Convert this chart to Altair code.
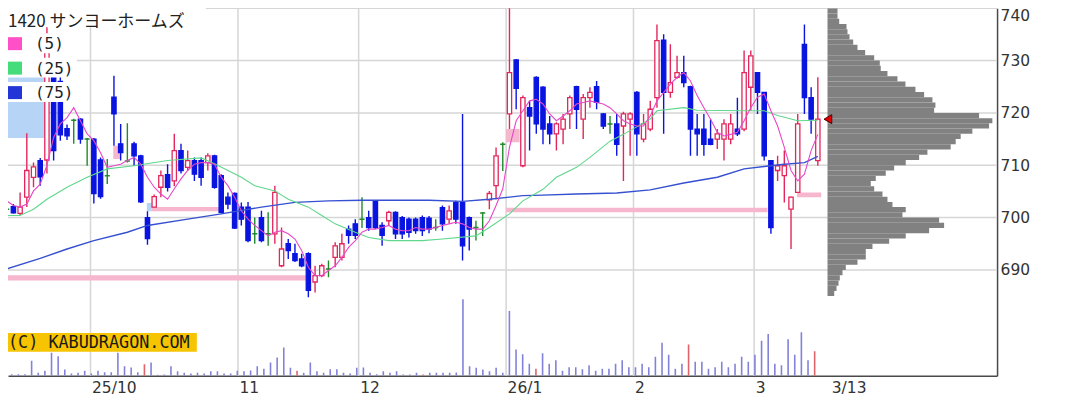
import altair as alt
import pandas as pd

# ---------------- data ----------------
TITLE = "1420 サンヨーホームズ"

opens = [701.6, 702.1, 700.8, 703.9, 707.7, 710.9, 711.0, 727.0, 726.0, 717.0,
         718.6, 718.8, 715.0, 715.0, 711.0, 708.0, 723.0, 714.1, 710.8, 714.1,
         711.8, 700.0, 702.0, 705.8, 708.2, 707.0, 712.8, 709.6, 710.9, 710.9,
         710.5, 711.8, 708.0, 703.9, 704.6, 702.0, 702.0, 696.9, 700.0, 696.9,
         696.9, 690.8, 695.0, 693.1, 692.1, 693.1, 687.7, 688.9, 690.2, 692.4,
         692.4, 697.8, 698.8, 699.7, 700.0, 703.2, 698.5, 699.4, 701.0, 700.0,
         699.7, 699.7, 700.0, 699.9, 698.1, 701.9, 699.7, 702.9, 702.9, 700.0,
         698.1, 700.9, 703.4, 706.1, 714.0, 719.8, 730.1, 709.9, 721.0, 726.8,
         724.9, 717.9, 716.0, 716.9, 719.8, 725.0, 718.8, 722.9, 725.0, 719.8,
         717.9, 717.9, 717.5, 718.8, 723.9, 715.0, 716.9, 722.9, 733.9, 723.9,
         726.8, 727.7, 725.0, 716.9, 716.9, 715.0, 715.0, 715.0, 715.0, 716.9,
         716.9, 724.9, 727.7, 723.9, 710.9, 709.0, 708.0, 701.6, 704.8, 733.1,
         722.9, 710.9]
highs = [702.6, 702.6, 704.8, 716.1, 710.5, 711.4, 737.0, 728.0, 727.0, 717.8,
         718.9, 719.0, 715.2, 715.2, 711.5, 711.2, 727.1, 717.9, 718.0, 714.5,
         712.0, 701.2, 704.4, 709.0, 710.2, 716.0, 714.1, 712.8, 711.5, 711.5,
         712.3, 712.0, 708.3, 704.8, 704.8, 702.9, 703.0, 700.0, 701.3, 701.0,
         706.1, 698.1, 695.9, 695.0, 693.1, 693.4, 690.8, 691.2, 691.8, 695.3,
         696.9, 698.5, 699.7, 703.9, 701.3, 703.3, 699.1, 701.3, 701.2, 700.3,
         700.0, 700.0, 700.4, 700.3, 699.7, 702.3, 702.3, 703.2, 719.8, 700.2,
         699.4, 701.0, 705.1, 713.4, 714.4, 740.8, 730.3, 723.3, 722.3, 727.0,
         725.1, 719.4, 718.2, 719.8, 723.3, 725.2, 723.6, 724.9, 726.1, 720.0,
         719.4, 719.8, 720.2, 720.1, 724.2, 719.8, 722.3, 736.9, 735.0, 733.1,
         730.9, 730.9, 725.2, 719.8, 719.8, 718.8, 716.9, 718.8, 719.8, 722.9,
         731.9, 731.9, 727.7, 724.0, 711.0, 711.8, 712.8, 704.0, 719.8, 736.9,
         724.9, 726.8]
lows = [700.8, 700.8, 700.5, 702.0, 705.8, 706.1, 708.4, 710.9, 714.7, 714.8,
        714.1, 714.1, 709.9, 702.7, 703.6, 706.4, 713.7, 710.9, 710.5, 709.9,
        702.8, 694.8, 702.0, 703.9, 705.0, 706.0, 708.4, 709.0, 707.0, 706.1,
        709.0, 705.5, 700.8, 701.6, 697.8, 698.5, 695.3, 695.0, 695.3, 694.6,
        695.0, 690.5, 692.1, 691.5, 690.5, 684.8, 685.7, 688.6, 688.6, 690.5,
        691.8, 695.0, 695.9, 698.0, 697.5, 697.8, 694.6, 698.5, 695.9, 695.9,
        696.2, 696.9, 696.5, 697.0, 697.5, 697.5, 698.8, 698.8, 691.8, 693.7,
        695.6, 696.5, 701.6, 703.5, 708.9, 716.9, 720.7, 709.6, 712.8, 716.0,
        714.0, 714.0, 712.8, 714.0, 716.9, 716.9, 715.0, 721.0, 720.7, 716.9,
        716.0, 711.8, 707.0, 711.8, 711.8, 714.4, 716.5, 721.0, 716.0, 722.9,
        726.5, 724.9, 711.8, 711.8, 711.8, 713.8, 713.1, 710.9, 714.0, 715.6,
        716.5, 720.4, 719.8, 710.9, 696.9, 707.0, 702.9, 694.0, 704.8, 719.8,
        716.0, 709.9]
closes = [701.6, 700.9, 702.0, 709.0, 709.7, 707.8, 735.0, 712.8, 715.8, 715.6,
          718.6, 715.0, 715.0, 704.6, 704.0, 708.0, 719.8, 712.4, 710.8, 711.8,
          703.0, 696.0, 704.0, 708.0, 705.8, 712.8, 709.0, 710.9, 708.3, 707.7,
          711.8, 705.8, 701.0, 702.6, 698.0, 699.7, 695.6, 696.9, 695.6, 696.9,
          704.8, 694.0, 693.7, 691.8, 690.8, 686.1, 688.9, 690.8, 690.2, 694.6,
          695.0, 696.6, 696.6, 699.7, 698.1, 698.1, 696.6, 701.0, 696.9, 696.9,
          697.2, 697.5, 697.5, 697.8, 698.1, 698.8, 701.3, 699.7, 694.6, 697.8,
          698.1, 700.9, 704.6, 711.8, 714.0, 727.7, 724.7, 722.9, 719.4, 717.9,
          716.9, 716.0, 717.9, 718.8, 722.9, 720.7, 722.9, 723.9, 722.0, 717.5,
          717.9, 714.0, 719.8, 719.8, 716.0, 717.9, 720.7, 733.8, 723.9, 725.8,
          727.7, 725.8, 716.9, 716.0, 714.0, 714.0, 716.0, 717.9, 717.9, 716.0,
          727.7, 730.9, 723.9, 711.8, 698.1, 709.9, 709.9, 703.9, 717.9, 722.9,
          718.8, 718.8]

ma5 = [703.2, 702.3, 702.0, 702.6, 705.1, 706.4, 710.0, 715.3, 717.9, 719.1,
       721.0, 718.5, 716.0, 714.7, 712.4, 709.6, 709.9, 710.2, 710.9, 711.5,
       710.2, 707.7, 705.8, 704.5, 703.5, 705.5, 707.4, 709.0, 710.2, 710.5,
       710.5, 710.2, 707.7, 706.1, 703.9, 701.3, 699.7, 698.5, 697.5, 696.5,
       697.2, 697.5, 696.9, 695.9, 693.7, 690.5, 688.9, 688.9, 689.9, 690.8,
       692.4, 694.3, 695.6, 697.2, 697.8, 697.8, 698.1, 698.5, 697.8, 697.5,
       697.5, 698.1, 697.8, 697.8, 698.1, 698.5, 698.8, 699.1, 698.8, 698.1,
       697.8, 697.8, 699.4, 702.3, 705.5, 713.4, 718.5, 720.4, 722.3, 722.6,
       721.7, 719.8, 718.5, 719.4, 720.4, 721.7, 722.0, 722.3, 722.0, 721.7,
       721.0, 719.8, 718.5, 717.9, 717.5, 717.5, 719.4, 722.3, 723.9, 725.5,
       726.8, 727.7, 726.1, 723.3, 721.0, 718.8, 716.3, 715.6, 715.9, 716.3,
       718.5, 721.0, 723.0, 723.6, 720.4, 717.5, 713.4, 709.0, 707.0, 708.3,
       712.8, 715.9]

ma25_day = [0, 2, 4, 6, 9, 12, 15, 19, 24, 29, 31, 33, 35, 37, 40, 42, 45, 47, 49,
            52, 54, 57, 62, 65, 70, 72, 75, 77, 80, 82, 85, 87, 90, 92, 96, 97,
            101, 103, 110, 113, 115, 118, 121]
ma25_val = [700.4, 700.4, 701.6, 703.5, 705.8, 707.7, 709.3, 709.9, 710.9, 711.4,
            710.3, 709.0, 707.7, 706.1, 705.1, 703.5, 702.0, 700.4, 698.8, 697.2,
            696.2, 695.6, 695.6, 695.9, 696.5, 698.1, 700.7, 703.2, 705.4, 707.7,
            709.6, 711.5, 714.6, 715.9, 718.8, 720.4, 721.0, 720.5, 720.4, 720.4,
            719.5, 718.5, 718.6]

ma75_day = [0, 5, 9, 13, 18, 21, 27, 32, 38, 43, 48, 53, 63, 68, 72, 75, 77, 80,
            85, 91, 96, 101, 106, 110, 116, 119, 121]
ma75_val = [690.2, 692.2, 694.0, 695.6, 697.2, 698.5, 699.7, 700.7, 702.0, 702.9,
            703.2, 703.3, 703.3, 703.1, 703.5, 703.9, 704.2, 704.3, 704.5, 704.7,
            705.3, 706.6, 707.7, 709.3, 710.2, 710.5, 711.7]

volume = [1.7, 1.7, 1.7, 15, 3, 5, 23, 19.7, 6.3, 2.3,
          3, 5, 2.3, 5, 3.7, 3.7, 23, 9.7, 8.3, 3.7,
          11.7, 13.3, 1, 1.3, 9.7, 4.7, 3, 2.3, 3, 2.3,
          4.7, 4.7, 2.3, 2.3, 5, 4.7, 5.3, 9.7, 7, 13.3,
          18.3, 28.3, 8, 5, 3, 13.3, 4.7, 3, 6.7, 6.7,
          3, 2.3, 8, 8.3, 3, 1.7, 4.7, 3, 4.7, 1.3,
          1.3, 3, 1.3, 3, 3, 3, 3, 3.3, 76.7, 9.7,
          8, 6.3, 4.7, 8, 3, 65, 26.3, 21.7, 12.2, 7,
          22.7, 12.2, 15.7, 5.2, 8.7, 8.7, 6.6, 10.5, 5.2, 7,
          7, 12.2, 15.7, 8.7, 8.7, 12.2, 8.7, 19.2, 33.2, 21,
          7, 12.2, 31.4, 14, 14, 7, 8.7, 14, 8.7, 12.2,
          19.2, 14, 21, 35, 41.9, 12.2, 10.5, 36.7, 21, 43.7,
          15.7, 24.5]
volume_red_days = [20, 43, 62, 79, 102, 121]

profile_low = list(range(685, 741))
profile_vol = [6.7, 9, 11, 12.3, 15, 18.3, 30, 38.3, 38.3, 45,
               61.7, 78.3, 101.7, 116.7, 111.7, 75, 78.3, 65, 60, 55,
               46.7, 43.3, 48.3, 58.3, 66.7, 78.3, 91.7, 100, 123.3, 128.3,
               133.3, 145, 161.7, 165, 151.7, 106.7, 108, 105, 96.7, 88,
               78, 70, 60, 53.3, 52.3, 46.7, 37.7, 30, 25.7, 22,
               20, 19, 11.7, 10, 10, 8.3]

# price gaps (windows): first day, last day, low, high, kind
gap_from = [-1, -1, 15.9, 20.9, 21.65, 74.5, 74.5, 117.9]
gap_to = [44.6, 5.7, 16.9, 21.65, 31.8, 113.5, 76.5, 121.5]
gap_low = [688.0, 715.2, 711.2, 701.2, 701.2, 701.0, 714.4, 703.9]
gap_high = [689.0, 730.3, 713.7, 702.8, 702.0, 701.9, 716.9, 704.8]
gap_kind = ["up", "down", "up", "down", "up", "up", "up", "up"]

month_first_day = [13, 35, 53, 75, 94, 112]
month_labels = ["25/10", "11", "12", "26/1", "2", "3"]
last_label = "3/13"
price_ticks = [690, 700, 710, 720, 730, 740]
ma_names = ["(5)", "(25)", "(75)"]

# ---------------- styles / layout ----------------
RED, BLUE, GREEN = "#e3265c", "#0a14e0", "#1e8a2a"
MA5C, MA25C, MA75C = "#e848c8", "#5fd78c", "#3550d0"
LEG = ["#ff50c8", "#45dc7a", "#2236d8"]
GRID = "#d6d6d6"
W, H = 990, 368
REF_X0, REF_DX = 6.7, 6.71          # reference pixel of day 0 and day spacing
XL, XR = (8 - REF_X0) / REF_DX, (998 - REF_X0) / REF_DX
PMAX = 740.0
PMIN = PMAX - H / 5.24
PROF_LEFT = 828.3

n = len(closes)
kind = ["up" if c > o else ("down" if c < o else "flat") for o, c in zip(opens, closes)]
candles = pd.DataFrame({"i": range(n), "open": opens, "high": highs, "low": lows,
                        "close": closes, "kind": kind})

XS = alt.Scale(domain=[XL, XR], nice=False, zero=False)
YS = alt.Scale(domain=[PMIN, PMAX], nice=False, zero=False)

tick_vals = [d - 0.5 for d in month_first_day] + [n - 1 + 1.85]
tick_text = month_labels + [last_label]
label_expr = ""
for v, t in zip(tick_vals, tick_text):
    label_expr += f"abs(datum.value - {v}) < 0.01 ? '{t}' : "
label_expr += "''"

x_axis = alt.Axis(values=tick_vals, labelExpr=label_expr, labelAlign="left",
                  labelBaseline="top", labelPadding=5, labelOffset=1, labelFlush=False,
                  labelFont="DejaVu Sans", labelFontSize=15.5, labelColor="#333",
                  ticks=False, grid=False, domainColor="#4a4a4a", domainWidth=1.5,
                  title=None, labelOverlap=False)
y_axis = alt.Axis(orient="right", values=price_ticks, labelFont="DejaVu Sans",
                  labelFontSize=15.5, labelColor="#333", ticks=False, grid=False,
                  domainColor="#4a4a4a", domainWidth=1.5, labelPadding=3, title=None,
                  labelBaseline={"condition": {"test": f"datum.value >= {PMAX}", "value": "top"},
                                 "value": "middle"})


def px(field="i"):
    return alt.X(f"{field}:Q", scale=XS, axis=None)


def py(field):
    return alt.Y(f"{field}:Q", scale=YS, axis=None)


# gridlines
hgrid = alt.Chart(pd.DataFrame({"p": price_ticks})).mark_rule(
    color=GRID, strokeWidth=1.5).encode(y=py("p"))
vgrid = alt.Chart(pd.DataFrame({"m": [d - 0.5 for d in month_first_day]})).mark_rule(
    color=GRID, strokeWidth=1.5).encode(x=px("m"))

gap_df = pd.DataFrame({"a": gap_from, "b": gap_to, "lo": gap_low, "hi": gap_high,
                       "k": gap_kind})
gap_layers = []
for k, col in [("up", "#f6b6ce"), ("down", "#b6d4f6")]:
    gap_layers.append(alt.Chart(gap_df).transform_filter(f"datum.k == '{k}'").mark_rect(
        color=col, clip=True).encode(x=px("a"), x2="b:Q", y=py("lo"), y2="hi:Q"))

vol_df = pd.DataFrame({"i": range(n), "v": volume,
                       "c": ["r" if d in volume_red_days else "b" for d in range(n)]})
vol_layers = []
for k, col in [("b", "#8282da"), ("r", "#e0646a")]:
    vol_layers.append(alt.Chart(vol_df).transform_filter(f"datum.c == '{k}'").mark_bar(
        size=1.6, color=col, clip=True).encode(
        x=px("i"), y=alt.Y("v:Q", scale=alt.Scale(domain=[0, H], nice=False), axis=None)))

prof = alt.Chart(pd.DataFrame({"lo": profile_low, "w": profile_vol})).transform_calculate(
    hi="datum.lo + 1", base="0").mark_rect(color="#818181", clip=True).encode(
    x=alt.X("base:Q", scale=alt.Scale(domain=[8 - PROF_LEFT, 998 - PROF_LEFT], nice=False,
                                      zero=False), axis=None),
    x2="w:Q", y=py("lo"), y2="hi:Q")

axes_layer = alt.Chart(candles).mark_rule(opacity=0).encode(
    x=alt.X("i:Q", scale=XS, axis=x_axis),
    y=alt.Y("low:Q", scale=YS, axis=y_axis))

candle_layers = []
for k, col in [("up", RED), ("down", BLUE), ("flat", GREEN)]:
    candle_layers.append(alt.Chart(candles).transform_filter(f"datum.kind == '{k}'").mark_rule(
        strokeWidth=1.4, color=col, clip=True).encode(x=px("i"), y=py("low"), y2="high:Q"))
for k, fillc, strokec in [("up", "#ffffff", RED), ("down", BLUE, BLUE)]:
    candle_layers.append(alt.Chart(candles).transform_filter(f"datum.kind == '{k}'")
                         .transform_calculate(xl="datum.i - 0.32", xr="datum.i + 0.32")
                         .mark_rect(fill=fillc, stroke=strokec, strokeWidth=1.3, clip=True)
                         .encode(x=px("xl"), x2="xr:Q", y=py("open"), y2="close:Q"))
candle_layers.append(alt.Chart(candles).transform_filter("datum.kind == 'flat'")
                     .transform_calculate(xl="datum.i - 0.38", xr="datum.i + 0.38")
                     .mark_rule(strokeWidth=1.5, color=GREEN, clip=True)
                     .encode(x=px("xl"), x2="xr:Q", y=py("open")))

ma5_line = alt.Chart(pd.DataFrame({"i": range(n), "v": ma5})).mark_line(
    color=MA5C, strokeWidth=1.1, clip=True).encode(x=px("i"), y=py("v"))
ma25_line = alt.Chart(pd.DataFrame({"i": ma25_day, "v": ma25_val})).mark_line(
    color=MA25C, strokeWidth=1.1, clip=True).encode(x=px("i"), y=py("v"))
ma75_line = alt.Chart(pd.DataFrame({"i": ma75_day, "v": ma75_val})).mark_line(
    color=MA75C, strokeWidth=1.4, clip=True).encode(x=px("i"), y=py("v"))

marker = alt.Chart(pd.DataFrame({"i": [n - 1 + 1.5], "v": [closes[-1]]})).mark_point(
    shape="triangle-left", filled=True, size=80, fill="#e00000", stroke="#500000",
    strokeWidth=1, opacity=1).encode(x=px("i"), y=py("v"))

# legend / title / watermark
one = pd.DataFrame({"t": [TITLE]})
title_bg = alt.Chart(one).mark_rect(color="white").encode(
    x=alt.value(-3), x2=alt.value(198), y=alt.value(-8), y2=alt.value(19))
title_txt = alt.Chart(one).mark_text(align="left", baseline="alphabetic",
                                     font="Noto Sans CJK JP", fontSize=17,
                                     color="#222").encode(
    x=alt.value(0), y=alt.value(19), text="t:N")
legend_layers = []
for k, (name, col) in enumerate(zip(ma_names, LEG)):
    top = 25 + 24.5 * k
    d = pd.DataFrame({"t": [name]})
    legend_layers.append(alt.Chart(d).mark_rect(color="white").encode(
        x=alt.value(-3), x2=alt.value(69), y=alt.value(top), y2=alt.value(top + 20)))
    legend_layers.append(alt.Chart(d).mark_rect(color=col).encode(
        x=alt.value(0), x2=alt.value(14), y=alt.value(top + 4), y2=alt.value(top + 17)))
    legend_layers.append(alt.Chart(d).mark_text(align="left", baseline="alphabetic",
                                                font="DejaVu Sans Mono", fontSize=16,
                                                color="#222").encode(
        x=alt.value(27), y=alt.value(top + 16), text="t:N"))

wm = pd.DataFrame({"t": ["(C) KABUDRAGON.COM"]})
wm_bg = alt.Chart(wm).mark_rect(color="#f6c400").encode(
    x=alt.value(-3), x2=alt.value(189), y=alt.value(325), y2=alt.value(344))
wm_txt = alt.Chart(wm).mark_text(align="left", baseline="alphabetic",
                                 font="DejaVu Sans Mono", fontSize=16.8,
                                 color="#1a1a1a").encode(
    x=alt.value(0), y=alt.value(340), text="t:N")

chart = alt.layer(
    hgrid, vgrid, *gap_layers, *vol_layers, prof, axes_layer, *candle_layers,
    ma75_line, ma25_line, ma5_line, marker,
    title_bg, title_txt, *legend_layers, wm_bg, wm_txt
).resolve_scale(
    x="independent", y="independent"
).properties(
    width=W, height=H,
    padding={"left": 0, "top": 0, "right": 60, "bottom": 32},
    autosize=alt.AutoSizeParams(type="none"),
    background="white",
).configure_view(stroke=None)

chart.save("out.html", embed_options={"renderer": "svg", "actions": False})
